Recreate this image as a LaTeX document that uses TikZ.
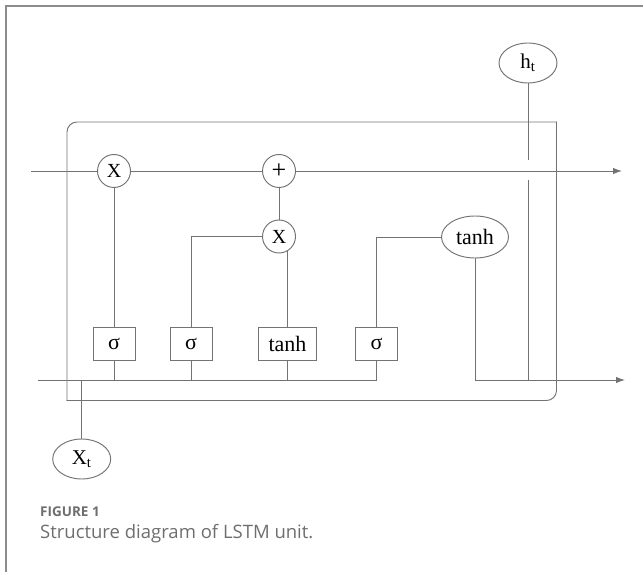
\documentclass[tikz,border=0pt]{standalone}
\usepackage{fontspec}
\setmainfont{Liberation Serif}
\newfontfamily\capfont{Open Sans}
\usepackage{xcolor}
\usetikzlibrary{arrows.meta, backgrounds, shapes.geometric}
\definecolor{linegray}{HTML}{737373}
\definecolor{framegray}{HTML}{8C8C8C}
\definecolor{capgray}{HTML}{6E6E6E}

\begin{document}
\begin{tikzpicture}[x=1pt, y=-1pt, >={Latex[length=9pt,width=6.5pt]},
    wire/.style ={draw=linegray, line width=0.95pt},
    op/.style   ={circle, draw=linegray, line width=0.95pt, fill=white, minimum size=33pt, inner sep=0pt, font=\fontsize{20}{20}\selectfont},
    gate/.style ={rectangle, draw=linegray, line width=0.95pt, fill=white, minimum width=42pt, minimum height=33pt, inner sep=0pt, font=\fontsize{22}{22}\selectfont},
    io/.style   ={ellipse, draw=linegray, line width=0.95pt, fill=white, minimum width=58pt, minimum height=40pt, inner sep=0pt, font=\fontsize{21}{21}\selectfont},
    capt/.style ={anchor=base west, inner sep=0pt, text=capgray}]
    \useasboundingbox (0,0) rectangle (643,572);
    % outer frame
    \draw[framegray, line width=1.3pt] (6,572) -- (6,6) -- (643,6);
    % cell
    \draw[wire, rounded corners=10pt, line cap=rect] (556.5,122) -- (67,122) -- (67,400.5);
    \draw[wire, rounded corners=10pt, line cap=rect] (67,400.5) -- (556.5,400.5) -- (556.5,122);
    % pointwise operations
    \node[op] (mul1) at (114,171) {X};
    \node[op, font=\fontsize{26}{26}\selectfont] (add)  at (279,171) {+};
    \node[op] (mul2) at (279,236.5) {X};
    % gates
    \node[gate] (sig1) at (114,343.5) {σ};
    \node[gate] (sig2) at (191,343.5) {σ};
    \node[gate, minimum width=58pt] (tanhb) at (287.5,343.5) {tanh};
    \node[gate] (sig3) at (376.5,343.5) {σ};
    \node[io, minimum width=67pt, minimum height=42pt, font=\fontsize{22}{22}\selectfont] (tanhe) at (475,237) {tanh};
    % input / output
    \node[io] (ht) at (528,63) {h\textsubscript{t}};
    \node[io] (xt) at (81.7,459) {X\textsubscript{t}};
    \coordinate (cin)  at (31,171);
    \coordinate (cout) at (622,171);
    \coordinate (hin)  at (38,380);
    \coordinate (hout) at (625,380);
    \coordinate (gapt) at (528,160);
    \coordinate (gapb) at (528,180);
    % wires
    \begin{scope}[on background layer]
      \draw[wire, ->] (cin) -- (mul1) -- (add) -- (cout);
      \draw[wire] (hin) -- (sig3.south |- hin);
      \foreach \g in {sig1, sig2, tanhb, sig3}
        \draw[wire] (\g) -- (\g |- hin);
      \draw[wire] (mul1) -- (sig1);
      \draw[wire] (add) -- (mul2);
      \draw[wire] (sig2.north) |- (mul2);
      \draw[wire] (tanhb.north) -- (tanhb.north |- mul2.center);
      \draw[wire] (sig3.north) |- (tanhe);
      \draw[wire, ->] (tanhe) |- (hout);
      \draw[wire] (xt) -- (xt |- hin);
      \draw[wire] (ht) -- (gapt);
      \draw[wire] (gapb) -- (ht |- hout);
    \end{scope}
    % caption
    \node[capt, font=\capfont\bfseries\fontsize{13.5}{15}\selectfont] (fignum) at (40,516.7) {FIGURE 1};
    \node[capt, font=\capfont\fontsize{18.5}{21}\selectfont] (figcap) at (40,538) {Structure diagram of LSTM unit.};
\end{tikzpicture}
\end{document}
